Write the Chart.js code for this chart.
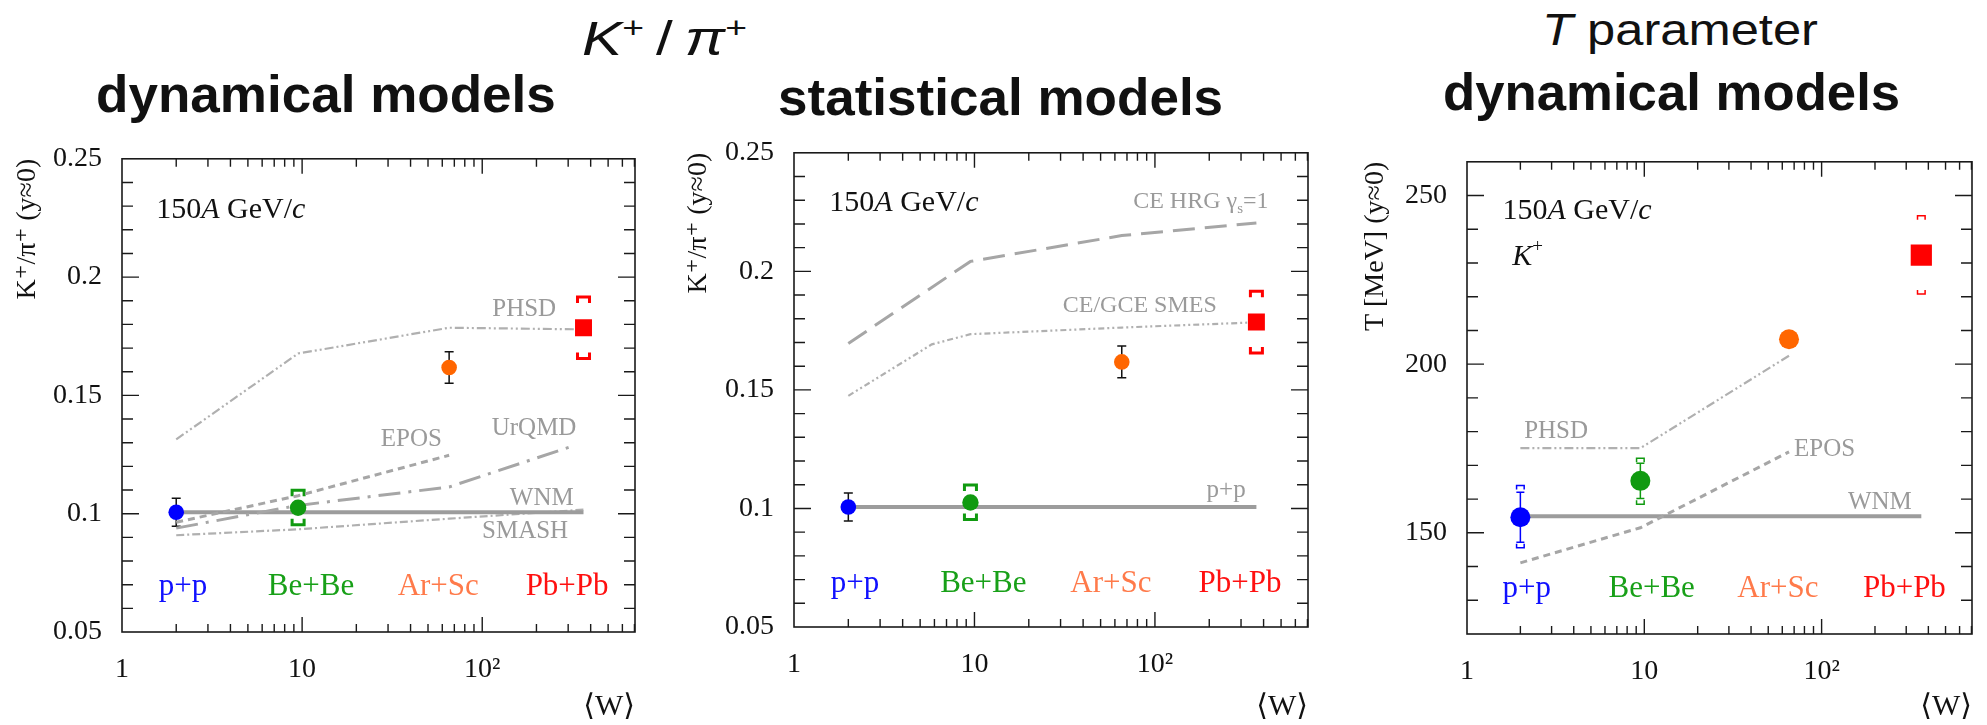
<!DOCTYPE html>
<html>
<head>
<meta charset="utf-8">
<script src="https://cdn.jsdelivr.net/npm/chart.js@4.4.1/dist/chart.umd.min.js"></script>
<style>
  body { margin: 0; width: 1987px; height: 725px; background: #fff; position: relative; overflow: hidden; }
  canvas { position: absolute; }
  .ttl { position: absolute; white-space: nowrap; line-height: 1; color: #111;
         font-family: "Liberation Sans", Arial, sans-serif; transform-origin: 0 0; }
  .bold { font-weight: bold; }
  .ttl sup { font-size: 0.62em; vertical-align: 0.55em; line-height: 0; }
</style>
</head>
<body>
<div class="ttl" style="left:582px; top:14px; font-size:49px" data-w="165"><i>K</i><sup>+</sup>&thinsp;/&thinsp;<i>π</i><sup>+</sup></div>
<div class="ttl bold" style="left:96px; top:68px; font-size:52px" data-w="460">dynamical models</div>
<div class="ttl bold" style="left:778px; top:71px; font-size:52px" data-w="445">statistical models</div>
<div class="ttl" style="left:1542px; top:7px; font-size:45px" data-w="276"><i>T</i>&nbsp;parameter</div>
<div class="ttl bold" style="left:1443px; top:66px; font-size:52px" data-w="457">dynamical models</div>

<canvas id="kpiDyn" width="655" height="595" style="left:0px; top:130px"></canvas>
<canvas id="kpiStat" width="656" height="601" style="left:672px; top:124px"></canvas>
<canvas id="tDyn" width="642" height="592" style="left:1345px; top:133px"></canvas>

<script>
/* global Chart */

// ---- data (NA61/SHINE, 150A GeV/c, y≈0) ----
const systems = ["p+p", "Be+Be", "Ar+Sc", "Pb+Pb"];
const meanW = [2, 9.5, 65.5, 365];

// K+/pi+ ratio
const kpiValue = [0.1006, 0.1025, 0.1618, 0.1786];
const kpiStat = [0.0059, 0.0015, 0.0067, 0];
const kpiSysLow = [null, 0.0953, null, 0.1656];
const kpiSysHigh = [null, 0.1099, null, 0.1916];

// inverse slope parameter T of K+ [MeV]
const tValue = [154.6, 165.4, 207.4, 232.3];
const tStat = [7.4, 5.2, 0, 0];
const tSysLow = [145.6, 158.5, null, 220.8];
const tSysHigh = [164.0, 172.1, null, 244.0];

// dynamical models, K+/pi+
const phsdW = [2, 9.5, 65.5, 365];
const phsdKpi = [0.1314, 0.1677, 0.1786, 0.1779];
const eposW = [2, 9.5, 65.5];
const eposKpi = [0.0964, 0.1076, 0.1247];
const urqmdW = [2, 9.5, 65.5, 330];
const urqmdKpi = [0.0939, 0.1035, 0.1113, 0.129];
const wnmW = [2, 365];
const wnmKpi = [0.1006, 0.1006];
const smashW = [2, 9.5, 65.5, 365];
const smashKpi = [0.0909, 0.0934, 0.0979, 0.1017];

// statistical models, K+/pi+
const ceHrgW = [2, 9.5, 65.5, 365];
const ceHrgKpi = [0.1696, 0.2042, 0.2151, 0.2204];
const smesW = [2, 5.8, 9.5, 65.5, 365];
const smesKpi = [0.1475, 0.1692, 0.1735, 0.1763, 0.1785];
const ppRefW = [2, 365];
const ppRefKpi = [0.1006, 0.1006];

// dynamical models, T
const phsdTW = [2, 9.5, 65.5];
const phsdT = [175.1, 175.1, 202.5];
const eposTW = [2, 9.5, 65.5];
const eposT = [141.1, 151.5, 174.0];
const wnmTW = [2, 365];
const wnmT = [154.9, 154.9];

// axis ticks
const wTicks = [1, 10, 100];
const kpiTicks = [0.05, 0.1, 0.15, 0.2, 0.25];
const tTicks = [150, 200, 250];

// ---- style ----
const SERIF = '"Liberation Serif", "DejaVu Serif", serif';
const markerColors = ["#0000ff", "#109a10", "#ff6600", "#ff0000"];
const labelColors = ["#1010ff", "#18a018", "#ff7a4a", "#ff1010"];
const markerShapes = ["circle", "circle", "circle", "rect"];
const MODEL_GREY = "#a6a6a6";
const TEXT_GREY = "#9a9a9a";

function pairs(xs, ys) {
  return xs.map((x, i) => ({ x, y: ys[i] }));
}

function lineSet(xs, ys, color, width, dash) {
  return {
    data: pairs(xs, ys), showLine: true, pointRadius: 0, pointHoverRadius: 0,
    borderColor: color, borderWidth: width, borderDash: dash, fill: false, tension: 0, order: 2,
  };
}

function pointSet(ys, radii) {
  return {
    data: pairs(meanW, ys), showLine: false,
    pointStyle: markerShapes, pointRadius: radii, pointHoverRadius: radii,
    pointBackgroundColor: markerColors, pointBorderWidth: 0, order: 0,
  };
}

const beamText = [{ t: "150" }, { t: "A", it: true }, { t: " GeV/" }, { t: "c", it: true }];

// draws text made of roman / italic / sub / sup pieces
function drawRich(ctx, parts, px, py, align, size, color) {
  const fontFor = (p) =>
    `${p.it ? "italic " : ""}${p.sub || p.sup ? Math.round(size * 0.62) : size}px ${SERIF}`;
  const widths = parts.map((p) => {
    ctx.font = fontFor(p);
    return ctx.measureText(p.t).width;
  });
  const total = widths.reduce((a, b) => a + b, 0);
  let cx = align === "left" ? px : align === "right" ? px - total : px - total / 2;
  ctx.fillStyle = color;
  ctx.textAlign = "left";
  ctx.textBaseline = "middle";
  parts.forEach((p, i) => {
    ctx.font = fontFor(p);
    const dy = p.sub ? size * 0.3 : p.sup ? -size * 0.33 : 0;
    ctx.fillText(p.t, cx, py + dy);
    cx += widths[i];
  });
}

// ROOT-like frame, inward ticks, error bars and text
function decor(setup) {
  return {
    id: "decor",
    beforeDatasetsDraw(chart) {
      const { ctx, chartArea: a, scales: { x, y } } = chart;
      ctx.save();
      ctx.strokeStyle = "#1a1a1a";
      ctx.lineWidth = 1.6;
      ctx.strokeRect(a.left, a.top, a.right - a.left, a.bottom - a.top);

      ctx.lineWidth = 1.4;
      ctx.beginPath();
      for (let d = 1; d < x.max; d *= 10) {
        for (let k = 1; k < 10; k++) {
          const v = d * k;
          if (v <= x.min || v >= x.max) continue;
          const px = x.getPixelForValue(v);
          const len = k === 1 ? 15 : 8;
          ctx.moveTo(px, a.bottom); ctx.lineTo(px, a.bottom - len);
          ctx.moveTo(px, a.top); ctx.lineTo(px, a.top + len);
        }
      }
      const n = Math.round((y.max - y.min) / setup.yMinor);
      for (let k = 1; k < n; k++) {
        const v = y.min + k * setup.yMinor;
        const major = setup.yTicks.some((t) => Math.abs(t - v) < 1e-9);
        const len = major ? 17 : 11;
        const py = y.getPixelForValue(v);
        ctx.moveTo(a.left, py); ctx.lineTo(a.left + len, py);
        ctx.moveTo(a.right, py); ctx.lineTo(a.right - len, py);
      }
      ctx.stroke();

      const e = setup.err;
      meanW.forEach((w, i) => {
        const px = x.getPixelForValue(w);
        if (e.stat[i] > 0) {
          const y1 = y.getPixelForValue(e.val[i] + e.stat[i]);
          const y2 = y.getPixelForValue(e.val[i] - e.stat[i]);
          ctx.strokeStyle = e.colouredStat ? markerColors[i] : "#111";
          ctx.lineWidth = 1.5;
          ctx.beginPath();
          ctx.moveTo(px, y1); ctx.lineTo(px, y2);
          ctx.moveTo(px - e.cap, y1); ctx.lineTo(px + e.cap, y1);
          ctx.moveTo(px - e.cap, y2); ctx.lineTo(px + e.cap, y2);
          ctx.stroke();
        }
        if (e.sysLo[i] != null) {
          const yt = y.getPixelForValue(e.sysHi[i]);
          const yb = y.getPixelForValue(e.sysLo[i]);
          const h = e.sysHalf;
          const l = e.sysLeg;
          ctx.strokeStyle = markerColors[i];
          ctx.lineWidth = e.sysWidth;
          ctx.beginPath();
          ctx.moveTo(px - h, yt + l); ctx.lineTo(px - h, yt); ctx.lineTo(px + h, yt); ctx.lineTo(px + h, yt + l);
          ctx.moveTo(px - h, yb - l); ctx.lineTo(px - h, yb); ctx.lineTo(px + h, yb); ctx.lineTo(px + h, yb - l);
          ctx.stroke();
        }
      });
      ctx.restore();
    },
    afterDatasetsDraw(chart) {
      const { ctx, scales: { x, y } } = chart;
      ctx.save();
      setup.notes.forEach((nt) => {
        drawRich(ctx, nt.parts, x.getPixelForValue(nt.x), y.getPixelForValue(nt.y),
          nt.align || "center", nt.size, nt.color);
      });
      systems.forEach((s, i) => {
        drawRich(ctx, [{ t: s }], x.getPixelForValue(setup.sysLabelW[i]),
          y.getPixelForValue(setup.sysLabelY), "center", 31, labelColors[i]);
      });
      ctx.restore();
    },
  };
}

function wLabel(v) {
  if (v === 1) return "1";
  if (v === 10) return "10";
  if (v === 100) return "10²";
  return "";
}

function buildPanel(id, setup) {
  return new Chart(document.getElementById(id), {
    type: "scatter",
    data: { datasets: setup.datasets },
    options: {
      responsive: false,
      animation: false,
      events: [],
      layout: { padding: { top: 20, right: setup.padRight, left: 0, bottom: 0 } },
      plugins: { legend: { display: false }, tooltip: { enabled: false } },
      scales: {
        x: {
          type: "logarithmic", min: 1, max: 705,
          grid: { display: false }, border: { display: false },
          afterBuildTicks: (s) => { s.ticks = wTicks.map((v) => ({ value: v })); },
          afterFit: (s) => { s.height = setup.xAxisHeight; },
          ticks: {
            callback: (v) => wLabel(v), autoSkip: false, maxRotation: 0,
            padding: 13, color: "#111", font: { family: SERIF, size: 28 },
          },
          title: {
            display: true, text: "⟨W⟩", align: "end", color: "#111",
            font: { family: SERIF, size: 30 }, padding: { top: 0, bottom: 0 },
          },
        },
        y: {
          min: setup.yMin, max: setup.yMax,
          grid: { display: false }, border: { display: false },
          afterBuildTicks: (s) => { s.ticks = setup.yTicks.map((v) => ({ value: v })); },
          afterFit: (s) => { s.width = 122; },
          ticks: {
            callback: (v) => String(v), padding: 12, color: "#111",
            font: { family: SERIF, size: 28 },
          },
          title: {
            display: true, text: setup.yTitle, align: "end", color: "#111",
            font: { family: SERIF, size: 28 }, padding: { top: setup.yTitlePad, bottom: 0 },
          },
        },
      },
    },
    plugins: [decor(setup)],
  });
}

const kpiErr = {
  val: kpiValue, stat: kpiStat, sysLo: kpiSysLow, sysHi: kpiSysHigh,
  cap: 4.5, sysHalf: 6, sysLeg: 6, sysWidth: 3, colouredStat: false,
};

buildPanel("kpiDyn", {
  yMin: 0.05, yMax: 0.25, yTicks: kpiTicks, yMinor: 0.01,
  yTitle: "K⁺/π⁺ (y≈0)", yTitlePad: 11, padRight: 20, xAxisHeight: 93,
  err: kpiErr,
  sysLabelW: [2.18, 11.2, 57, 296], sysLabelY: 0.069,
  datasets: [
    pointSet(kpiValue, [7.8, 8.2, 7.8, 12]),
    lineSet(phsdW, phsdKpi, "#b0b0b0", 2.2, [9, 3, 2, 3, 2, 3]),
    lineSet(eposW, eposKpi, MODEL_GREY, 3, [7, 5]),
    lineSet(urqmdW, urqmdKpi, MODEL_GREY, 3, [22, 8, 3, 8]),
    lineSet(wnmW, wnmKpi, "#9c9c9c", 4, []),
    lineSet(smashW, smashKpi, "#b0b0b0", 2.2, [8, 3, 2, 3]),
  ],
  notes: [
    { parts: beamText, x: 1.55, y: 0.2285, align: "left", size: 30, color: "#111" },
    { parts: [{ t: "PHSD" }], x: 171, y: 0.1862, size: 25, color: TEXT_GREY },
    { parts: [{ t: "EPOS" }], x: 40.4, y: 0.1312, size: 25, color: TEXT_GREY },
    { parts: [{ t: "UrQMD" }], x: 194, y: 0.136, size: 25, color: TEXT_GREY },
    { parts: [{ t: "WNM" }], x: 214, y: 0.1064, size: 25, color: TEXT_GREY },
    { parts: [{ t: "SMASH" }], x: 173, y: 0.0924, size: 25, color: TEXT_GREY },
  ],
});

buildPanel("kpiStat", {
  yMin: 0.05, yMax: 0.25, yTicks: kpiTicks, yMinor: 0.01,
  yTitle: "K⁺/π⁺ (y≈0)", yTitlePad: 10, padRight: 20, xAxisHeight: 98,
  err: kpiErr,
  sysLabelW: [2.18, 11.2, 57, 296], sysLabelY: 0.068,
  datasets: [
    pointSet(kpiValue, [7.8, 8.2, 7.8, 12]),
    lineSet(ceHrgW, ceHrgKpi, MODEL_GREY, 3, [22, 10]),
    lineSet(smesW, smesKpi, "#b0b0b0", 2.2, [6, 3, 2, 3, 2, 3]),
    lineSet(ppRefW, ppRefKpi, "#9c9c9c", 4, []),
  ],
  notes: [
    { parts: beamText, x: 1.57, y: 0.2289, align: "left", size: 30, color: "#111" },
    { parts: [{ t: "CE HRG γ" }, { t: "s", sub: true }, { t: "=1" }], x: 426, y: 0.2293, align: "right", size: 24, color: TEXT_GREY },
    { parts: [{ t: "CE/GCE SMES" }], x: 82.4, y: 0.1857, size: 24, color: TEXT_GREY },
    { parts: [{ t: "p+p" }], x: 248, y: 0.1076, size: 25, color: TEXT_GREY },
  ],
});

buildPanel("tDyn", {
  yMin: 120, yMax: 260, yTicks: tTicks, yMinor: 10,
  yTitle: "T [MeV] (y≈0)", yTitlePad: 14, padRight: 8, xAxisHeight: 91,
  err: {
    val: tValue, stat: tStat, sysLo: tSysLow, sysHi: tSysHigh,
    cap: 4, sysHalf: 3.8, sysLeg: 4, sysWidth: 1.5, colouredStat: true,
  },
  sysLabelW: [2.17, 11, 56.7, 293], sysLabelY: 133.5,
  datasets: [
    pointSet(tValue, [10, 10, 10, 15]),
    lineSet(phsdTW, phsdT, "#b0b0b0", 2.2, [9, 3, 2, 3, 2, 3]),
    lineSet(eposTW, eposT, MODEL_GREY, 3, [7, 5]),
    lineSet(wnmTW, wnmT, "#9c9c9c", 4, []),
  ],
  notes: [
    { parts: beamText, x: 1.585, y: 245.5, align: "left", size: 30, color: "#111" },
    { parts: [{ t: "K", it: true }, { t: "+", sup: true }], x: 1.8, y: 231.7, align: "left", size: 30, color: "#111" },
    { parts: [{ t: "PHSD" }], x: 3.18, y: 180, size: 25, color: TEXT_GREY },
    { parts: [{ t: "EPOS" }], x: 104, y: 174.7, size: 25, color: TEXT_GREY },
    { parts: [{ t: "WNM" }], x: 213, y: 159, size: 25, color: TEXT_GREY },
  ],
});

// squeeze the big headings to the widths seen in the slide
document.querySelectorAll(".ttl").forEach((el) => {
  const target = Number(el.dataset.w);
  const w = el.getBoundingClientRect().width;
  if (target && w) el.style.transform = `scaleX(${(target / w).toFixed(3)})`;
});
</script>
</body>
</html>
